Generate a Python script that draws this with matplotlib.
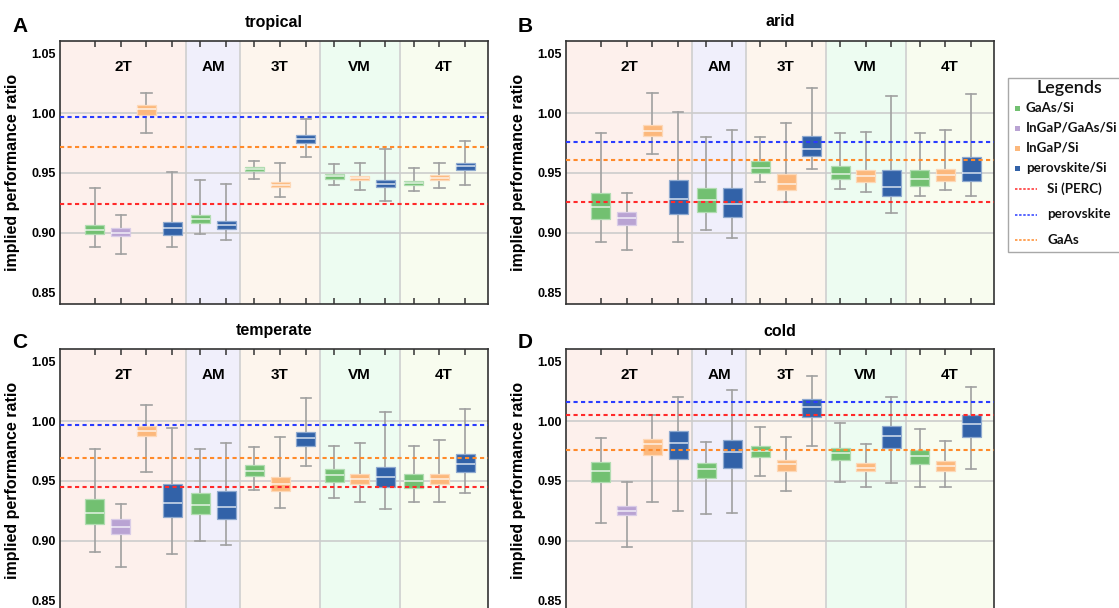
import matplotlib
matplotlib.use("Agg")
import matplotlib.pyplot as plt
import matplotlib.colors as mc
from matplotlib.lines import Line2D
from matplotlib.patches import Rectangle

# ---------------- data ----------------
series_names = ["GaAs/Si", "InGaP/GaAs/Si", "InGaP/Si", "perovskite/Si"]
series_colors = ["#72c071", "#b9a3d3", "#fcb87c", "#3262a8"]
groups = ["2T", "AM", "3T", "VM", "4T"]
slot_group = [0, 0, 0, 0, 1, 1, 2, 2, 2, 3, 3, 3, 4, 4, 4]
slot_series = [0, 1, 2, 3, 0, 3, 0, 2, 3, 0, 2, 3, 0, 2, 3]
climates = ["tropical", "arid", "temperate", "cold"]
panel_letters = ["A", "B", "C", "D"]

# (whisker low, q1, median, q3, whisker high) per slot
tropical = [
    (0.888, 0.899, 0.902, 0.906, 0.937),
    (0.882, 0.897, 0.900, 0.904, 0.915),
    (0.983, 0.998, 1.003, 1.0067, 1.0165),
    (0.888, 0.898, 0.904, 0.909, 0.9506),
    (0.899, 0.908, 0.911, 0.915, 0.944),
    (0.894, 0.903, 0.906, 0.910, 0.941),
    (0.945, 0.9517, 0.953, 0.9545, 0.960),
    (0.930, 0.938, 0.940, 0.942, 0.958),
    (0.963, 0.975, 0.978, 0.9816, 0.995),
    (0.940, 0.945, 0.947, 0.949, 0.9575),
    (0.936, 0.944, 0.946, 0.9475, 0.958),
    (0.926, 0.9385, 0.941, 0.9436, 0.970),
    (0.9346, 0.9397, 0.9416, 0.943, 0.954),
    (0.937, 0.944, 0.946, 0.948, 0.958),
    (0.940, 0.952, 0.9556, 0.958, 0.977),
]
arid = [
    (0.892, 0.9112, 0.9212, 0.9327, 0.983),
    (0.8855, 0.906, 0.912, 0.917, 0.9335),
    (0.966, 0.9804, 0.985, 0.990, 1.017),
    (0.892, 0.9154, 0.9277, 0.9436, 1.0006),
    (0.902, 0.9176, 0.927, 0.937, 0.980),
    (0.8958, 0.9134, 0.9237, 0.937, 0.9858),
    (0.942, 0.9497, 0.9536, 0.9595, 0.980),
    (0.9257, 0.9355, 0.9405, 0.9489, 0.9916),
    (0.953, 0.9637, 0.9696, 0.981, 1.0207),
    (0.9366, 0.9444, 0.949, 0.956, 0.983),
    (0.934, 0.942, 0.947, 0.9525, 0.984),
    (0.9165, 0.931, 0.9385, 0.952, 1.014),
    (0.931, 0.939, 0.9447, 0.952, 0.983),
    (0.9355, 0.9433, 0.9478, 0.953, 0.9855),
    (0.9307, 0.9433, 0.950, 0.963, 1.0156),
]
temperate = [
    (0.890, 0.9135, 0.9233, 0.935, 0.9764),
    (0.878, 0.9056, 0.9115, 0.9177, 0.931),
    (0.957, 0.9874, 0.992, 0.996, 1.0138),
    (0.889, 0.9197, 0.9317, 0.947, 0.9944),
    (0.900, 0.922, 0.930, 0.940, 0.9764),
    (0.896, 0.918, 0.928, 0.9416, 0.9815),
    (0.942, 0.954, 0.9584, 0.963, 0.9787),
    (0.927, 0.9416, 0.947, 0.9528, 0.987),
    (0.962, 0.979, 0.986, 0.9907, 1.019),
    (0.936, 0.949, 0.955, 0.960, 0.9795),
    (0.932, 0.947, 0.9517, 0.9556, 0.982),
    (0.926, 0.945, 0.9528, 0.9615, 1.0076),
    (0.932, 0.944, 0.950, 0.956, 0.9795),
    (0.932, 0.9475, 0.9517, 0.956, 0.984),
    (0.9396, 0.9576, 0.9643, 0.9725, 1.0098),
]
cold = [
    (0.915, 0.949, 0.958, 0.9654, 0.9857),
    (0.895, 0.921, 0.925, 0.929, 0.949),
    (0.9326, 0.9713, 0.981, 0.9848, 1.005),
    (0.925, 0.968, 0.982, 0.9916, 1.020),
    (0.9225, 0.9525, 0.9596, 0.965, 0.9826),
    (0.9233, 0.961, 0.974, 0.984, 1.026),
    (0.954, 0.970, 0.9747, 0.979, 0.9947),
    (0.9416, 0.9584, 0.9638, 0.9674, 0.987),
    (0.979, 1.003, 1.0115, 1.0185, 1.038),
    (0.949, 0.9677, 0.9733, 0.9775, 0.998),
    (0.9444, 0.958, 0.961, 0.9646, 0.981),
    (0.9478, 0.9775, 0.9876, 0.9958, 1.020),
    (0.945, 0.9643, 0.9708, 0.9758, 0.9935),
    (0.9444, 0.9584, 0.9626, 0.9663, 0.9837),
    (0.9596, 0.987, 0.9972, 1.0048, 1.0287),
]
climate_data = [tropical, arid, temperate, cold]

ref_names = ["Si (PERC)", "perovskite", "GaAs"]
ref_colors = ["#ff2a2a", "#2a3cff", "#ff8a2a"]
ref_tropical = [0.924, 0.997, 0.972]
ref_arid = [0.9257, 0.976, 0.961]
ref_temperate = [0.945, 0.9963, 0.969]
ref_cold = [1.0053, 1.0157, 0.9758]
climate_refs = [ref_tropical, ref_arid, ref_temperate, ref_cold]

group_bg = ["#fdf0ec", "#f0effb", "#fdf5ed", "#edfcf1", "#f8fcef"]
# --------------------------------------

plt.rcParams["font.family"] = ["Liberation Sans", "DejaVu Sans"]

W, H = 1119, 608
fig = plt.figure(figsize=(W / 100, H / 100), dpi=100)

positions = [1.36 + i + 0.1 * g for i, g in enumerate(slot_group)]
xlim = (0.0, 16.65)

panel_px = [(60, 41), (566, 41), (60, 349), (566, 349)]
ax_w, ax_h = 428, 263


def lighten(c, f):
    r, g, b = mc.to_rgb(c)
    return (r + (1 - r) * f, g + (1 - g) * f, b + (1 - b) * f)


for k in range(4):
    x0, y0 = panel_px[k]
    ax = fig.add_axes([x0 / W, 1 - (y0 + ax_h) / H, ax_w / W, ax_h / H])
    ax.set_xlim(*xlim)
    ax.set_ylim(0.8402, 1.0603)

    # group backgrounds and separators
    bounds = [xlim[0]]
    for g in range(1, len(groups)):
        last = max(p for p, sg in zip(positions, slot_group) if sg == g - 1)
        first = min(p for p, sg in zip(positions, slot_group) if sg == g)
        bounds.append((last + first) / 2)
    bounds.append(xlim[1])
    for g in range(len(groups)):
        ax.axvspan(bounds[g], bounds[g + 1], color=group_bg[g], zorder=0, lw=0)
        ax.text((bounds[g] + bounds[g + 1]) / 2, 1.0385, groups[g],
                ha="center", va="center", fontsize=11, fontweight="bold", zorder=5)
    for b in bounds[1:-1]:
        ax.axvline(b, color="#d2d2d2", lw=1.3, zorder=1)
    for yv in [0.90, 0.95, 1.00]:
        ax.axhline(yv, color="#cccccc", lw=1.2, zorder=1)

    stats = []
    for lo, q1, med, q3, hi in climate_data[k]:
        stats.append(dict(whislo=lo, q1=q1, med=med, q3=q3, whishi=hi, fliers=[]))
    bp = ax.bxp(stats, positions=positions, widths=0.74, capwidths=0.4,
                patch_artist=True, showfliers=False, manage_ticks=False,
                whiskerprops=dict(color="#a0a0a0", lw=1.2),
                capprops=dict(color="#a0a0a0", lw=1.2),
                medianprops=dict(color="white", lw=1.1, alpha=0.8))
    for box, s in zip(bp["boxes"], slot_series):
        box.set_facecolor(series_colors[s])
        box.set_edgecolor(lighten(series_colors[s], 0.45))
        box.set_linewidth(0.9)
        box.set_zorder(3)
    for art in bp["medians"]:
        art.set_zorder(4)
    for art in bp["whiskers"] + bp["caps"]:
        art.set_zorder(2)

    for val, col in zip(climate_refs[k], ref_colors):
        ax.axhline(val, color=col, lw=1.5, ls=(0, (2, 1.6)), zorder=6)

    ax.set_xticks(positions)
    ax.set_xticklabels([])
    ax.tick_params(axis="x", direction="in", top=True, bottom=(k < 2), length=4,
                   width=1.1, color="#333333")
    ax.set_yticks([0.85, 0.90, 0.95, 1.00, 1.05])
    ax.set_yticklabels(["0.85", "0.90", "0.95", "1.00", "1.05"])
    ax.tick_params(axis="y", length=0, pad=3, labelsize=9)
    for lab in ax.get_yticklabels():
        lab.set_fontweight("bold")
    for sp in ax.spines.values():
        sp.set_color("#333333")
        sp.set_linewidth(1.2)
    ax.set_ylabel("implied performance ratio", fontsize=11.5, fontweight="bold")
    ax.yaxis.set_label_coords(-0.0935, 0.5)

    # title and panel letter
    cx = (x0 + ax_w / 2) / W
    ty = 22 if k < 2 else 331
    fig.text(cx, 1 - ty / H, climates[k], ha="center", va="center",
             fontsize=11.5, fontweight="bold")
    lx = 12 if k % 2 == 0 else 518
    ly = 26 if k < 2 else 342
    fig.text(lx / W, 1 - ly / H, panel_letters[k], ha="left", va="center",
             fontsize=15, fontweight="bold")

# ---- legend (drawn in pixel coordinates on an overlay axes) ----
lax = fig.add_axes([0, 0, 1, 1], zorder=10)
lax.set_xlim(0, W)
lax.set_ylim(H, 0)
lax.axis("off")
lfont = ["Lato", "DejaVu Sans"]
lax.add_patch(Rectangle((1008, 78), 130, 174, facecolor="white",
                        edgecolor="#a8a8a8", lw=1.0))
lax.text(1069, 88, "Legends", ha="center", va="center", fontsize=13,
         family=lfont, fontweight="semibold", color="#111111")
for i, (name, col) in enumerate(zip(series_names, series_colors)):
    yy = 108 + 20 * i
    lax.add_patch(Rectangle((1014.5, yy - 2.5), 5, 5, facecolor=col, edgecolor="none"))
    lax.text(1026, yy, name, ha="left", va="center", fontsize=9.6,
             family=lfont, fontweight="bold", color="#111111")
for i, (name, col) in enumerate(zip(ref_names, ref_colors)):
    yy = 189 + 25.5 * i
    lax.add_line(Line2D([1015, 1037], [yy, yy], color=col, lw=1.1, ls=(0, (1.6, 1.1))))
    lax.text(1047, yy, name, ha="left", va="center", fontsize=9.6,
             family=lfont, fontweight="bold", color="#111111")

fig.savefig("out.png", dpi=100)
